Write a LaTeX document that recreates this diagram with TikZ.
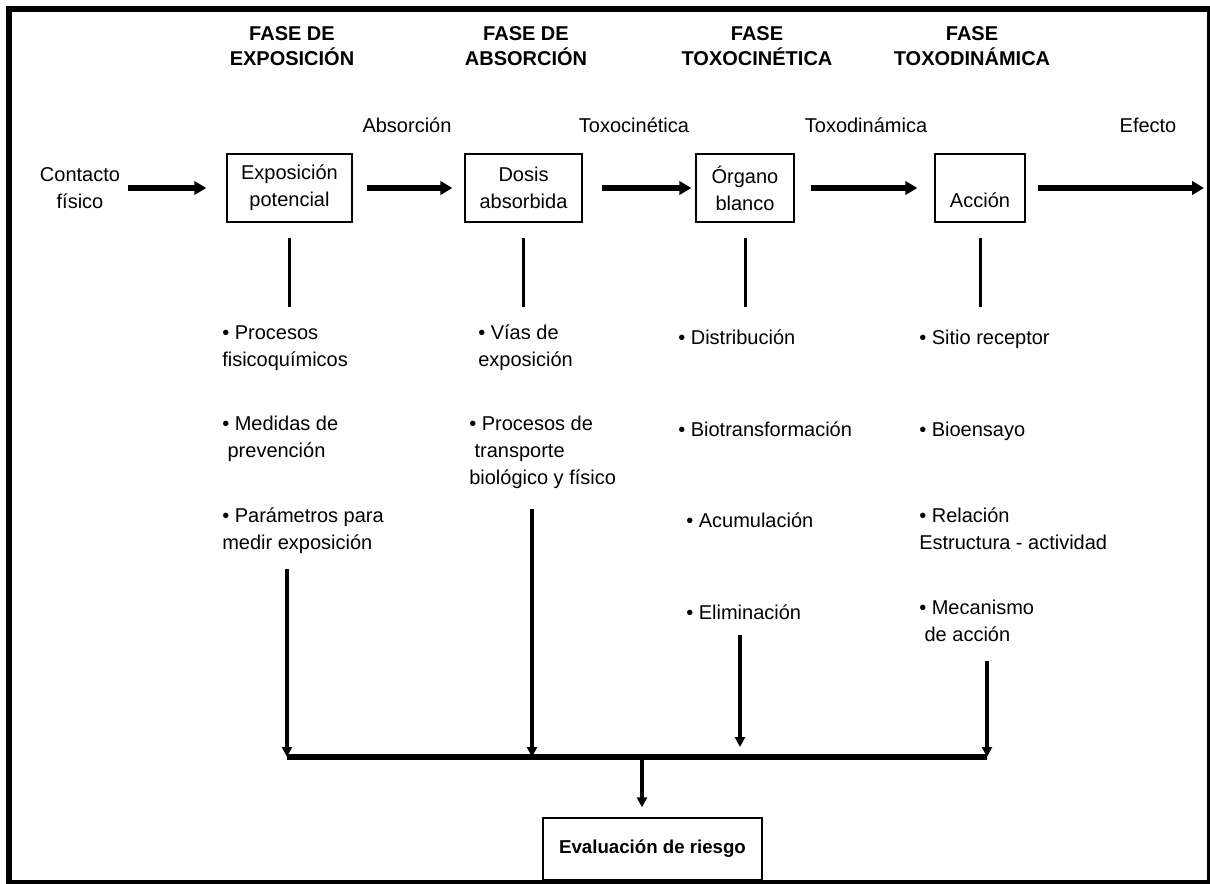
\documentclass[tikz,border=0pt]{standalone}
\usepackage{fontspec}
\setmainfont{Liberation Sans}
\usetikzlibrary{arrows.meta}

\begin{document}
\begin{tikzpicture}[
	x=0.75pt, y=-0.75pt,
	every node/.style={inner sep=0pt, font=\fontsize{15}{20.25}\selectfont},
	phase/.style={align=center, font=\fontsize{15}{18.75}\selectfont\bfseries},
	stage/.style={draw, line width=1pt, align=center, minimum height=51pt},
	item/.style={anchor=north west, align=left, execute at begin node=\strut, execute at end node=\strut},
	flow/.style={line width=4pt, -{Triangle[length=9pt,width=10pt]}},
	stem/.style={line width=2.25pt},
	drop/.style={line width=2.5pt, -{Triangle[length=7.5pt,width=7.5pt]}},
	bus/.style={line width=4pt}
	]

	\useasboundingbox (0,0) rectangle (1210,884);

	\node[phase] (h1) at (292,46) {FASE DE\\EXPOSICIÓN};
	\node[phase] (h2) at (526,46) {FASE DE\\ABSORCIÓN};
	\node[phase] (h3) at (757,46) {FASE\\TOXOCINÉTICA};
	\node[phase] (h4) at (972,46) {FASE\\TOXODINÁMICA};

	\node (l1) at (407,125) {Absorción};
	\node (l2) at (634,125) {Toxocinética};
	\node (l3) at (866,125) {Toxodinámica};
	\node (l4) at (1148,125) {Efecto};

	\node[align=center] (src) at (80,188) {Contacto\\físico};
	\node[stage, minimum width=93.75pt] (b1) at (289.5,188) {Exposición\\potencial};
	\node[stage, minimum width=87.75pt] (b2) at (523.5,188) {Dosis\\absorbida};
	\node[stage, minimum width=73.5pt] (b3) at (745,188) {Órgano\\blanco};
	\node[stage, minimum width=67.5pt, text height=40.5pt, text depth=10.5pt] (b4) at (980,188) {Acción};
	\coordinate (fin) at (1204,188);

	\draw[flow, shorten <=6pt, shorten >=15pt] (src) -- (b1);
	\draw[flow, shorten <=10.5pt, shorten >=9pt] (b1) -- (b2);
	\draw[flow, shorten <=14.25pt, shorten >=3pt] (b2) -- (b3);
	\draw[flow, shorten <=12pt, shorten >=12.75pt] (b3) -- (b4);
	\draw[flow, shorten <=9pt] (b4) -- (fin);

	\node[item] (a11) at (222,325) {• Procesos\\fisicoquímicos};
	\node[item] (a12) at (222,416) {• Medidas de\\\hspace*{4pt}prevención};
	\node[item] (a13) at (222,508) {• Parámetros para\\medir exposición};

	\node[item] (a21) at (478,325) {• Vías de\\exposición};
	\node[item] (a22) at (469,416) {• Procesos de\\\hspace*{4pt}transporte\\biológico y físico};

	\node[item] (a31) at (678,325) {• Distribución};
	\node[item] (a32) at (678,417) {• Biotransformación};
	\node[item] (a33) at (686,508) {• Acumulación};
	\node[item] (a34) at (686,600) {• Eliminación};

	\node[item] (a41) at (919,325) {• Sitio receptor};
	\node[item] (a42) at (919,417) {• Bioensayo};
	\node[item] (a43) at (919,508) {• Relación\\Estructura - actividad};
	\node[item] (a44) at (919,600) {• Mecanismo\\\hspace*{4pt}de acción};

	\draw[stem, shorten <=11.25pt, shorten >=13.5pt] (b1.south) -- (b1.south |- a11.north);
	\draw[stem, shorten <=11.25pt, shorten >=13.5pt] (b2.south) -- (b2.south |- a21.north);
	\draw[stem, shorten <=11.25pt, shorten >=13.5pt] (b3.south) -- (b3.south |- a31.north);
	\draw[stem, shorten <=11.25pt, shorten >=13.5pt] (b4.south) -- (b4.south |- a41.north);

	\coordinate (bus1) at (287,757);
	\coordinate (bus2) at (532,757);
	\coordinate (bus3) at (740,757);
	\coordinate (bus4) at (987,757);
	\coordinate (mid) at (642,757);

	\draw[bus] (bus1) -- (bus4);
	\draw[drop, shorten <=8.25pt] (a13.south -| bus1) -- (bus1);
	\draw[drop, shorten <=12pt] (a22.south -| bus2) -- (bus2);
	\draw[drop, shorten <=5.25pt, shorten >=7.5pt] (a34.south -| bus3) -- (bus3);
	\draw[drop, shorten <=8.25pt] (a44.south -| bus4) -- (bus4);

	\node[draw, line width=1pt, minimum width=164.25pt, minimum height=46.5pt,
		font=\fontsize{14}{16}\selectfont\bfseries] (eval) at (652.5,849) {Evaluación de riesgo};
	\draw[drop, shorten >=7.5pt] (mid) -- (mid |- eval.north);

	\draw[line width=4.5pt] (8.5,9) rectangle (1209.5,883);

\end{tikzpicture}
\end{document}
